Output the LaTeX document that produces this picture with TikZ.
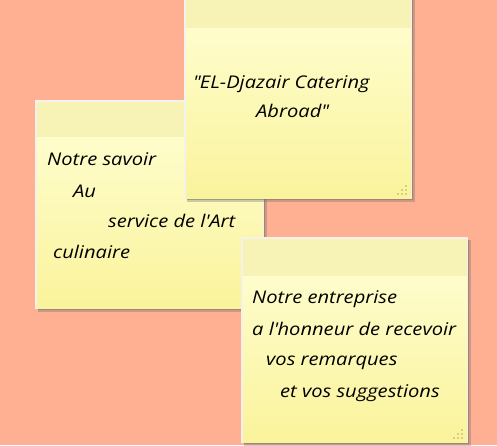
\documentclass[tikz,border=0pt]{standalone}
\usepackage{fontspec}
\setmainfont{Open Sans}
\newfontfamily\handfont{Open Sans}[FakeStretch=1.15]
\definecolor{bg}{HTML}{FFB092}
\definecolor{headc}{HTML}{F7F3B7}
\definecolor{bodytop}{HTML}{FEFDCB}
\definecolor{bodybot}{HTML}{FAF39C}
\definecolor{edgec}{HTML}{F4F2EA}
\definecolor{shadowc}{HTML}{707070}
\definecolor{gripc}{HTML}{D9CF7E}
\tikzset{
  notetext/.style={anchor=base west, inner sep=0pt, font=\handfont\fontsize{17.5}{20}\selectfont\itshape, text=black},
  grip/.style={fill=gripc},
}
\newcommand{\stickynote}[5]{%
  \fill[shadowc, opacity=0.35] (#1+1,#2+1) rectangle (#3+4,#4+4);
  \fill[shadowc, opacity=0.5] (#1+1,#2+1) rectangle (#3+2,#4+2);
  \fill[edgec] (#1-2,#2-2) rectangle (#3+1,#4+1);
  \shade[top color=bodytop, bottom color=bodybot] (#1,#5) rectangle (#3,#4);
  \fill[headc] (#1,#2) rectangle (#3,#5);
  \foreach \dx/\dy in {5/12,9/8,5/8,13/4,9/4,5/4}
    \fill[grip] (#3-\dx-0.8,#4-\dy-0.8) rectangle (#3-\dx+0.8,#4-\dy+0.8);
}
\begin{document}
\begin{tikzpicture}[x=1pt,y=-1pt]
\useasboundingbox[fill=bg] (0,0) rectangle (497,445);
% left note
\stickynote{37}{102}{263}{308}{137}
\node[notetext] (l1) at (47,165) {Notre savoir};
\node[notetext] (l2) at (73,197) {Au};
\node[notetext] (l3) at (108,227) {service de l\textquotesingle Art};
\node[notetext] (l4) at (53,258) {culinaire};
% top note
\stickynote{186}{-8}{411}{198}{28}
\node[notetext] (t1) at (193,88) {\textquotedbl EL-Djazair Catering};
\node[notetext] (t2) at (256,117) {Abroad\textquotedbl};
% bottom right note
\stickynote{243}{239}{467}{442}{276}
\node[notetext] (b1) at (252,303) {Notre entreprise};
\node[notetext] (b2) at (252,335) {a l\textquotesingle honneur de recevoir};
\node[notetext] (b3) at (266,365) {vos remarques};
\node[notetext] (b4) at (280,397) {et vos suggestions};
\end{tikzpicture}
\end{document}
